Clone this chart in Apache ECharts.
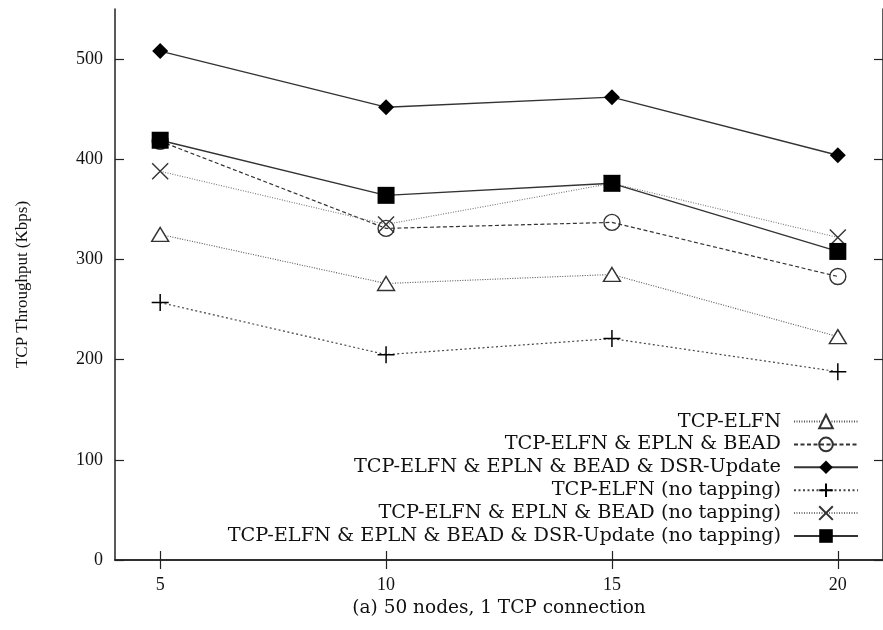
<!DOCTYPE html>
<html>
<head>
<meta charset="utf-8">
<script src="https://cdn.jsdelivr.net/npm/echarts@6/dist/echarts.min.js"></script>
<style>html,body{margin:0;padding:0;background:#fff;}#c{width:883px;height:630px;}</style>
</head>
<body>
<div id="c"></div>
<script>
const xValues = [5, 10, 15, 20];
const xTickLabels = [5, 10, 15, 20];
const yTickLabels = [0, 100, 200, 300, 400, 500];
const seriesNames = [
  'TCP-ELFN',
  'TCP-ELFN & EPLN & BEAD',
  'TCP-ELFN & EPLN & BEAD & DSR-Update',
  'TCP-ELFN (no tapping)',
  'TCP-ELFN & EPLN & BEAD (no tapping)',
  'TCP-ELFN & EPLN & BEAD & DSR-Update (no tapping)'
];
const elfn = [325, 276, 285, 223];
const elfnEplnBead = [418, 331, 337, 283];
const elfnEplnBeadDsr = [508, 452, 462, 404];
const elfnNoTap = [257, 205, 221, 188];
const elfnEplnBeadNoTap = [388, 335, 376, 322];
const elfnEplnBeadDsrNoTap = [419, 364, 376, 308];

const valuesList = [elfn, elfnEplnBead, elfnEplnBeadDsr, elfnNoTap, elfnEplnBeadNoTap, elfnEplnBeadDsrNoTap];
const FONT = '"Liberation Serif", "DejaVu Serif", serif';
const WIDE = '"DejaVu Serif", "Liberation Serif", serif';
const plus = 'path://M5,0L5,10M0,5L10,5';
const cross = 'path://M0,0L10,10M10,0L0,10';
const styles = [
  {symbol: 'triangle', size: [17, 14], fill: '#fff', border: '#333', bw: 1.4, lineType: [1, 1.5], lineColor: '#555', lw: 1.1},
  {symbol: 'circle', size: 16, fill: 'rgba(255,255,255,0)', border: '#333', bw: 1.4, lineType: [4, 2.5], lineColor: '#333', lw: 1.2},
  {symbol: 'diamond', size: 16, fill: '#000', border: '#000', bw: 0, lineType: 'solid', lineColor: '#333', lw: 1.4},
  {symbol: plus, size: 17, fill: 'rgba(0,0,0,0)', border: '#000', bw: 1.5, lineType: [2, 2.5], lineColor: '#444', lw: 1.2},
  {symbol: cross, size: 16, fill: 'rgba(0,0,0,0)', border: '#333', bw: 1.4, lineType: [1, 1.5], lineColor: '#777', lw: 1.1},
  {symbol: 'rect', size: 17, fill: '#000', border: '#000', bw: 0, lineType: 'solid', lineColor: '#333', lw: 1.4}
];

const series = seriesNames.map((name, i) => {
  const s = styles[i];
  return {
    name: name,
    type: 'line',
    xAxisIndex: 0,
    yAxisIndex: 0,
    data: xValues.map((x, j) => [x, valuesList[i][j]]),
    symbol: s.symbol,
    symbolSize: s.size,
    showAllSymbol: true,
    z: 2 + i,
    lineStyle: {color: s.lineColor, width: s.lw, type: s.lineType},
    itemStyle: {color: s.fill, borderColor: s.border, borderWidth: s.bw, opacity: 1},
    emphasis: {disabled: true},
    animation: false
  };
});

const legendTop0 = 411;
const legendStep = 22.9;
const legends = seriesNames.map((name, i) => ({
  data: [name],
  orient: 'vertical',
  right: 24,
  top: legendTop0 + legendStep * i,
  align: 'right',
  padding: 0,
  itemWidth: 64,
  itemHeight: 17,
  selectedMode: false,
  textStyle: {fontFamily: WIDE, fontSize: 19.3, color: '#111', lineHeight: 21, padding: [0, 8, 0, 0]}
}));

const axisLineStyle = {lineStyle: {color: '#222', width: 1.5}};
const tickStyle = {color: '#222', width: 1.2};

const option = {
  backgroundColor: '#fff',
  animation: false,
  grid: {left: 115, top: 9, right: -3, bottom: 70, containLabel: false},
  legend: legends,
  xAxis: [
    {
      type: 'value', position: 'bottom', min: 4, max: 21,
      axisLine: axisLineStyle,
      axisTick: {inside: true, length: 9, lineStyle: tickStyle, customValues: xTickLabels},
      axisLabel: {customValues: xTickLabels, fontFamily: FONT, fontSize: 18, color: '#111', margin: 16},
      splitLine: {show: false},
      name: '(a) 50 nodes, 1 TCP connection',
      nameLocation: 'middle',
      nameGap: 33,
      nameTextStyle: {fontFamily: WIDE, fontSize: 18.5, color: '#111'}
    },
    {
      type: 'value', position: 'top', min: 4, max: 21,
      axisLine: axisLineStyle,
      axisTick: {inside: true, length: 9, lineStyle: tickStyle, customValues: xTickLabels},
      axisLabel: {show: false},
      splitLine: {show: false}
    }
  ],
  yAxis: [
    {
      type: 'value', position: 'left', min: 0, max: 550,
      axisLine: {show: true, lineStyle: {color: '#222', width: 1.5}},
      axisTick: {show: true, inside: true, length: 9, lineStyle: tickStyle, customValues: yTickLabels},
      axisLabel: {customValues: yTickLabels, fontFamily: FONT, fontSize: 18, color: '#111', margin: 12},
      splitLine: {show: false},
      name: 'TCP Throughput (Kbps)',
      nameLocation: 'middle',
      nameGap: 84,
      nameRotate: 90,
      nameTextStyle: {fontFamily: FONT, fontSize: 17, color: '#111'}
    },
    {
      type: 'value', position: 'right', min: 0, max: 550,
      axisLine: {show: true, lineStyle: {color: '#222', width: 1.5}},
      axisTick: {show: true, inside: true, length: 9, lineStyle: tickStyle, customValues: yTickLabels},
      axisLabel: {show: false},
      splitLine: {show: false}
    }
  ],
  series: series
};

const chart = echarts.init(document.getElementById('c'), null, {renderer: 'canvas'});
chart.setOption(option);
</script>
</body>
</html>
